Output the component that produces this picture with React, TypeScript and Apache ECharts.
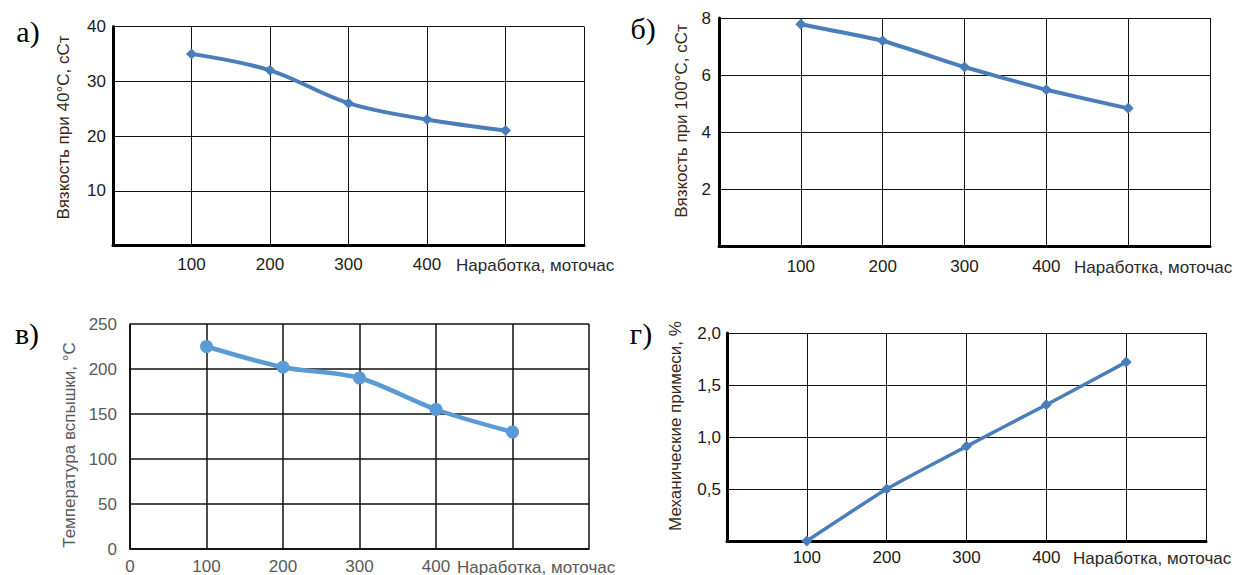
import React, { useEffect, useRef } from "react";
import * as echarts from "echarts";

const hours = [100, 200, 300, 400, 500];
const viscosity40 = [35, 32, 26, 23, 21];
const viscosity100 = [7.78, 7.2, 6.28, 5.48, 4.83];
const flashPoint = [225, 202, 190, 155, 130];
const impurities = [0, 0.5, 0.91, 1.31, 1.72];

const xLabelsABD = [100, 200, 300, 400];
const xLabelsC = [0, 100, 200, 300, 400];
const yLabelsA = [10, 20, 30, 40];
const yLabelsB = [2, 4, 6, 8];
const yLabelsC = [0, 50, 100, 150, 200, 250];
const yLabelsD = [0.5, 1.0, 1.5, 2.0];

const xName = "Наработка, моточас";
const yNames = [
  "Вязкость при 40°С, сСт",
  "Вязкость при 100°С, сСт",
  "Температура вспышки, °С",
  "Механические примеси, %",
];
const panelLetters = ["а)", "б)", "в)", "г)"];

const SANS = "'Liberation Sans', Arial, sans-serif";
const SERIF = "'Liberation Serif', 'Times New Roman', serif";

export default function App() {
  const ref = useRef<HTMLDivElement>(null);
  useEffect(() => {
    if (!ref.current) return;
    const chart = echarts.init(ref.current, undefined, { renderer: "svg" });

    const grids = [
      { left: 113, top: 26.5, width: 471, height: 219 },
      { left: 719, top: 18, width: 491, height: 228 },
      { left: 130, top: 324, width: 459, height: 225 },
      { left: 727, top: 333, width: 479, height: 208 },
    ];

    const thick = [true, true, false, true];
    const tickColor = ["#1e1a16", "#1e1a16", "#595959", "#1e1a16"];
    const xMargins = [10, 12, 9, 8];
    const yMargins = [7, 8, 13, 6];

    const xAxes = grids.map((_, i) => ({
      type: "value",
      gridIndex: i,
      min: 0,
      max: 600,
      interval: 100,
      axisLine: {
        show: true,
        onZero: false,
        lineStyle: { color: "#000", width: thick[i] ? 3 : 1.5 },
      },
      axisTick: { show: false },
      splitLine: { show: true, lineStyle: { color: "#111", width: i === 2 ? 1.5 : 1 } },
      axisLabel: {
        margin: xMargins[i],
        fontFamily: SANS,
        fontSize: 17,
        color: tickColor[i],
        formatter: (v: number) =>
          (i === 2 ? xLabelsC : xLabelsABD).includes(v) ? String(v) : "",
      },
    }));

    const yCfg = [
      { max: 40, interval: 10, labels: yLabelsA, fmt: (v: number) => String(v) },
      { max: 8, interval: 2, labels: yLabelsB, fmt: (v: number) => String(v) },
      { max: 250, interval: 50, labels: yLabelsC, fmt: (v: number) => String(v) },
      {
        max: 2,
        interval: 0.5,
        labels: yLabelsD,
        fmt: (v: number) => v.toFixed(1).replace(".", ","),
      },
    ];

    const yAxes = yCfg.map((c, i) => ({
      type: "value",
      gridIndex: i,
      min: 0,
      max: c.max,
      interval: c.interval,
      axisLine: {
        show: true,
        onZero: false,
        lineStyle: { color: "#000", width: thick[i] ? 3 : 1.5 },
      },
      axisTick: { show: false },
      splitLine: { show: true, lineStyle: { color: "#111", width: i === 2 ? 1.5 : 1 } },
      axisLabel: {
        margin: yMargins[i],
        fontFamily: SANS,
        fontSize: 17,
        color: tickColor[i],
        formatter: (v: number) =>
          c.labels.some((l) => Math.abs(l - v) < 1e-9) ? c.fmt(v) : "",
      },
    }));

    const seriesData = [viscosity40, viscosity100, flashPoint, impurities];
    const lineColors = ["#4a7ebb", "#4a7ebb", "#5b9bd5", "#4a7ebb"];
    const lineWidths = [4, 4, 4.5, 3.5];
    const smooths = [0.35, 0.1, 0.3, 0.15];
    const series = seriesData.map((vals, i) => ({
      type: "line",
      xAxisIndex: i,
      yAxisIndex: i,
      data: hours.map((h, k) => [h, vals[k]]),
      smooth: smooths[i],
      symbol: i === 2 ? "circle" : "diamond",
      symbolSize: i === 2 ? 13 : 11,
      lineStyle: { color: lineColors[i], width: lineWidths[i] },
      itemStyle: { color: lineColors[i] },
      z: 5,
    }));

    const letterPos = [
      [28, 31],
      [643, 28],
      [27, 333],
      [641, 333],
    ];
    const xNamePos = [
      [456, 265],
      [1074, 267],
      [457, 567],
      [1073, 558],
    ];
    const yNamePos = [
      [63, 127.5],
      [681, 121],
      [69, 445],
      [675, 426],
    ];
    const nameColor = ["#3d2814", "#3d2814", "#595959", "#3d2814"];
    const xNameColor = ["#2a2a2a", "#2a2a2a", "#595959", "#2a2a2a"];

    const graphic: any[] = [];
    panelLetters.forEach((t, i) => {
      graphic.push({
        type: "text",
        x: letterPos[i][0],
        y: letterPos[i][1],
        style: {
          text: t,
          font: `30px ${SERIF}`,
          fill: "#000",
          textAlign: "center",
          textVerticalAlign: "middle",
        },
      });
      graphic.push({
        type: "text",
        x: xNamePos[i][0],
        y: xNamePos[i][1],
        style: {
          text: xName,
          font: `17px ${SANS}`,
          fill: xNameColor[i],
          textAlign: "left",
          textVerticalAlign: "middle",
        },
      });
      graphic.push({
        type: "text",
        x: yNamePos[i][0],
        y: yNamePos[i][1],
        rotation: Math.PI / 2,
        style: {
          text: yNames[i],
          font: `17px ${SANS}`,
          fill: nameColor[i],
          textAlign: "center",
          textVerticalAlign: "middle",
        },
      });
    });

    chart.setOption({
      animation: false,
      backgroundColor: "#fff",
      grid: grids,
      xAxis: xAxes,
      yAxis: yAxes,
      series,
      graphic,
    });
    return () => chart.dispose();
  }, []);
  return (
    <div
      ref={ref}
      style={{ position: "absolute", left: 0, top: 0, width: 1234, height: 575 }}
    />
  );
}
